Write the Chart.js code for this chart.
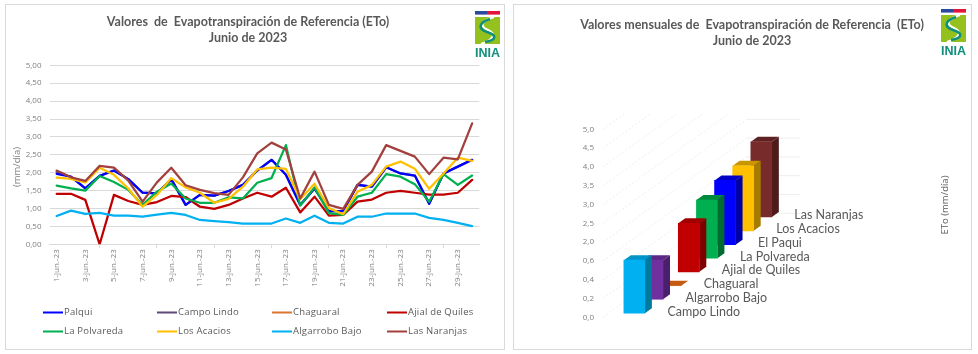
<!DOCTYPE html>
<html lang="es"><head><meta charset="utf-8">
<script src="https://cdn.jsdelivr.net/npm/chart.js@4"></script>
<style>
html,body{margin:0;padding:0;background:#fff;width:978px;height:354px;overflow:hidden}
.card{position:absolute;top:4px;height:344px;border:1px solid #d9d9d9;box-sizing:content-box}
canvas{position:absolute;top:0}
.logo{position:absolute;width:26px;height:48px}
</style></head><body>
<div class="card" style="left:5px;width:498px"></div>
<div class="card" style="left:513px;width:457px"></div>
<canvas id="lines" width="496" height="354" style="left:0;width:496px;height:354px"></canvas>
<canvas id="bars" width="438" height="354" style="left:533px;width:438px;height:354px"></canvas>
<div class="logo" id="logoA" style="left:475px;top:11px"></div>
<div class="logo" id="logoB" style="left:941px;top:9px"></div>
<script>
const days = ["1-jun.-23","2-jun.-23","3-jun.-23","4-jun.-23","5-jun.-23","6-jun.-23","7-jun.-23","8-jun.-23","9-jun.-23","10-jun.-23","11-jun.-23","12-jun.-23","13-jun.-23","14-jun.-23","15-jun.-23","16-jun.-23","17-jun.-23","18-jun.-23","19-jun.-23","20-jun.-23","21-jun.-23","22-jun.-23","23-jun.-23","24-jun.-23","25-jun.-23","26-jun.-23","27-jun.-23","28-jun.-23","29-jun.-23","30-jun.-23"];
const palqui = [1.97,1.89,1.56,1.91,2.06,1.82,1.44,1.42,1.82,1.10,1.38,1.36,1.49,1.66,2.06,2.36,1.94,1.10,1.56,0.93,0.93,1.66,1.61,2.15,1.98,1.92,1.13,1.98,2.17,2.36];
const campoLindo = [2.03,1.88,1.56,1.91,2.06,1.82,1.44,1.42,1.82,1.10,1.38,1.36,1.49,1.66,2.06,2.36,1.94,1.10,1.56,0.93,0.93,1.66,1.61,2.15,1.98,1.92,1.13,1.98,2.17,2.36];
const chaguaral = [null,null,null,null,null,null,null,null,null,null,null,null,null,null,null,null,null,null,null,null,null,null,null,null,null,null,null,null,null,null];
const ajial = [1.41,1.41,1.24,0.00,1.38,1.21,1.10,1.18,1.35,1.32,1.05,0.99,1.10,1.28,1.44,1.33,1.58,0.89,1.33,0.80,0.82,1.19,1.25,1.44,1.49,1.44,1.39,1.39,1.44,1.80];
const polvareda = [1.64,1.56,1.50,1.91,1.74,1.52,1.10,1.47,1.70,1.28,1.16,1.16,1.31,1.28,1.72,1.85,2.77,1.08,1.59,0.87,0.82,1.33,1.44,1.96,1.89,1.68,1.19,1.96,1.66,1.92];
const acacios = [1.86,1.83,1.73,2.14,1.94,1.56,1.05,1.38,1.85,1.59,1.44,1.16,1.27,1.61,2.09,2.14,2.11,1.26,1.69,1.01,0.84,1.47,1.66,2.17,2.31,2.11,1.55,1.98,2.42,2.33];
const algarrobo = [0.79,0.94,0.85,0.88,0.80,0.80,0.77,0.83,0.88,0.82,0.68,0.65,0.62,0.58,0.58,0.58,0.72,0.60,0.80,0.60,0.58,0.77,0.77,0.86,0.86,0.86,0.74,0.68,0.60,0.51];
const naranjas = [2.06,1.87,1.77,2.19,2.14,1.78,1.19,1.73,2.14,1.65,1.52,1.43,1.38,1.87,2.54,2.84,2.65,1.28,2.03,1.10,0.99,1.66,2.03,2.77,2.61,2.45,1.96,2.42,2.37,3.38];
const seriesNames = ["Palqui","Campo Lindo","Chaguaral","Ajial de Quiles","La Polvareda","Los Acacios","Algarrobo Bajo","Las Naranjas"];
const seriesValues = [palqui,campoLindo,chaguaral,ajial,polvareda,acacios,algarrobo,naranjas];
const seriesColors = ["#0000ff","#60497a","#d9772f","#c00000","#00b050","#ffc000","#00b0f0","#a2403e"];
const seriesOrder = [6,7,5,4,3,2,1,0];
const legendColumns = [43,157,272,387];
const legendRows = [312.5,331.5];

const barNames = ["Campo Lindo","Algarrobo Bajo","Chaguaral","Ajial de Quiles","La Polvareda","El Paqui","Los Acacios","Las Naranjas"];
const barFloor = [0.11,0.48,0.84,1.21,1.57,1.93,2.30,2.67];
const barTop = [1.52,1.52,0.84,2.50,3.12,3.64,4.03,4.67];
const barFront = ["#00b0f0","#7030a0","#c55a11","#c00000","#00b050","#0000ff","#ffc000","#772b2b"];
const barSide = ["#007a9e","#4a1f6b","#8f3f0a","#800000","#006b30","#0000a8","#a67c00","#4e1a1a"];
const barCap = ["#0094c8","#5c2785","#c55a11","#a00000","#008a3e","#0000c8","#c89600","#5f2222"];
const yTickLabels = ["0,0","0,2","0,4","0,6","2,0","2,5","3,0","3,5","4,0","4,5","5,0"];

function vText(ctx,text,x,y,font,color){
  ctx.save();ctx.translate(x,y);ctx.rotate(-Math.PI/2);
  ctx.font=font;ctx.fillStyle=color;ctx.textAlign='center';ctx.textBaseline='middle';
  ctx.fillText(text,0,0);ctx.restore();
}
const lineExtras = {id:'lineExtras',afterDraw(chart){
  const ctx=chart.ctx;
  vText(ctx,"(mm/día)",17,167,"9.5px 'Open Sans'","#7f7f7f");
  seriesNames.forEach((name,i)=>{
    const x=legendColumns[i%4],y=legendRows[Math.floor(i/4)];
    ctx.fillStyle=seriesColors[i];ctx.fillRect(x,y-1,20,2);
    ctx.font="9.5px 'Open Sans'";ctx.fillStyle="#595959";ctx.textAlign='left';ctx.textBaseline='middle';
    ctx.letterSpacing='0.2px';
    ctx.fillText(name,x+21,y);
    ctx.letterSpacing='0px';
  });
}};
new Chart(document.getElementById('lines'),{
  type:'line',
  data:{labels:days,datasets:seriesNames.map((n,i)=>({label:n,data:seriesValues[i],order:seriesOrder[i],borderColor:seriesColors[i],backgroundColor:seriesColors[i],borderWidth:2.25,pointRadius:0,tension:0,borderCapStyle:'round',borderJoinStyle:'round'}))},
  plugins:[lineExtras],
  options:{responsive:false,animation:false,
    layout:{padding:{left:16.7,right:16.7,top:0,bottom:0}},
    plugins:{legend:{display:false},tooltip:{enabled:false},
      title:{display:true,text:["Valores  de  Evapotranspiración de Referencia (ETo)","Junio de 2023"],color:"#595959",font:{family:"Lato",size:12.5,weight:'bold',lineHeight:1.28},padding:{top:14,bottom:19.3}}},
    scales:{
      x:{type:'category',offset:true,afterFit(s){s.height=109.7;},
        border:{color:"#d9d9d9"},
        grid:{drawOnChartArea:false,offset:true,tickLength:4,tickColor:c=>c.index%2===0?"#d9d9d9":"rgba(0,0,0,0)"},
        ticks:{autoSkip:false,minRotation:90,maxRotation:90,padding:1,color:"#7f7f7f",font:{family:"Open Sans",size:8},
          callback(v,i){return i%2===0?this.getLabelForValue(v):null;}}},
      y:{min:0,max:5,afterFit(s){s.width=32.8;},
        border:{display:false},
        grid:{color:"#d9d9d9",drawTicks:false},
        ticks:{stepSize:0.5,padding:8,color:"#7f7f7f",font:{family:"Open Sans",size:8},callback:v=>v.toFixed(2).replace('.',',')}}
    }}
});

const depthX=7,depthY=5,wallEnd=9.13;
const bar3d={id:'bar3d',
  beforeDatasetsDraw(chart){
    const ctx=chart.ctx,ys=chart.scales.y,xs=chart.scales.x,a=chart.chartArea,wallX=xs.getPixelForValue(wallEnd);
    ctx.save();ctx.strokeStyle="#eeeeee";ctx.lineWidth=1;ctx.setLineDash([2,2]);
    ys.ticks.forEach(t=>{
      const y0=ys.getPixelForValue(t.value),rise=104,run=144,topLimit=113;
      ctx.beginPath();ctx.moveTo(a.left,y0);
      const yEnd=y0-rise;
      if(yEnd>=topLimit){ctx.lineTo(a.left+run,yEnd);ctx.stroke();ctx.setLineDash([]);ctx.beginPath();ctx.moveTo(a.left+run,yEnd);ctx.lineTo(wallX,yEnd);ctx.stroke();ctx.setLineDash([2,2]);}
      else{ctx.lineTo(a.left+run*(y0-topLimit)/rise,topLimit);ctx.stroke();}
    });
    ctx.restore();
  },
  beforeDatasetDraw(chart,args){
    const ctx=chart.ctx,i=args.index;
    chart.getDatasetMeta(i).data.forEach(el=>{
      const p=el.getProps(['x','y','base','width'],true),l=p.x-p.width/2,r=p.x+p.width/2;
      ctx.fillStyle=barSide[i];ctx.beginPath();ctx.moveTo(r,p.y);ctx.lineTo(r+depthX,p.y-depthY);ctx.lineTo(r+depthX,p.base-depthY);ctx.lineTo(r,p.base);ctx.closePath();ctx.fill();
      ctx.fillStyle=barCap[i];ctx.beginPath();ctx.moveTo(l,p.y);ctx.lineTo(l+depthX,p.y-depthY);ctx.lineTo(r+depthX,p.y-depthY);ctx.lineTo(r,p.y);ctx.closePath();ctx.fill();
    });
  },
  afterDraw(chart){
    const ctx=chart.ctx,xs=chart.scales.x,ys=chart.scales.y;
    ctx.save();ctx.font="12.5px Lato";ctx.fillStyle="#595959";ctx.textAlign='left';ctx.textBaseline='middle';
    barNames.forEach((n,i)=>ctx.fillText(n,xs.getPixelForValue(i)+33,ys.getPixelForValue(barFloor[i])-1.6));
    ctx.restore();
    vText(ctx,"ETo (mm/día)",945-533,205,"9.5px 'Open Sans'","#595959");
  }};
new Chart(document.getElementById('bars'),{
  type:'bar',
  data:{datasets:barNames.map((n,i)=>({label:n,data:[{x:i,y:[barFloor[i],barTop[i]]}],backgroundColor:barFront[i],barThickness:21,grouped:false,clip:false}))},
  plugins:[bar3d],
  options:{responsive:false,animation:false,
    layout:{padding:{left:0,right:0,top:0,bottom:36.7}},
    plugins:{legend:{display:false},tooltip:{enabled:false},
      title:{display:true,text:["Valores mensuales de  Evapotranspiración de Referencia  (ETo)","Junio de 2023"],color:"#595959",font:{family:"Lato",size:12.5,weight:'bold',lineHeight:1.28},padding:{top:17,bottom:80.3}}},
    scales:{
      x:{type:'linear',offset:false,min:-1.73,max:18.56,display:false},
      y:{min:0,max:5,afterFit(s){s.width=70;},border:{display:false},
        grid:{display:false,drawTicks:false},
        ticks:{stepSize:0.5,padding:9,color:"#7f7f7f",font:{family:"Open Sans",size:8},callback:(v,i)=>yTickLabels[i]}}
    }}
});

const logoSvg=`<svg xmlns="http://www.w3.org/2000/svg" width="26" height="48" viewBox="0 0 26 48">
<rect x="0" y="0" width="12" height="3.6" fill="#2a4aa0"/><rect x="12" y="0" width="13" height="3.6" fill="#e4153b"/>
<rect x="0" y="6" width="25" height="27" fill="#95c11f"/>
<path d="M19 6 C6 10 4 15 13 19 C22 23 18 29 6 33" fill="none" stroke="#fff" stroke-width="2.2"/>
<path d="M15 8 C3 12 3 18 12 21 C22 24 22 29 10 31 " fill="none" stroke="#0f8f7c" stroke-width="2.6"/>
<text x="12.5" y="46" text-anchor="middle" font-family="'Liberation Sans'" font-weight="bold" font-size="12.5" fill="#0f8f7c" textLength="25" lengthAdjust="spacingAndGlyphs">INIA</text>
</svg>`;
document.getElementById('logoA').innerHTML=logoSvg;
document.getElementById('logoB').innerHTML=logoSvg;
</script>
</body></html>
